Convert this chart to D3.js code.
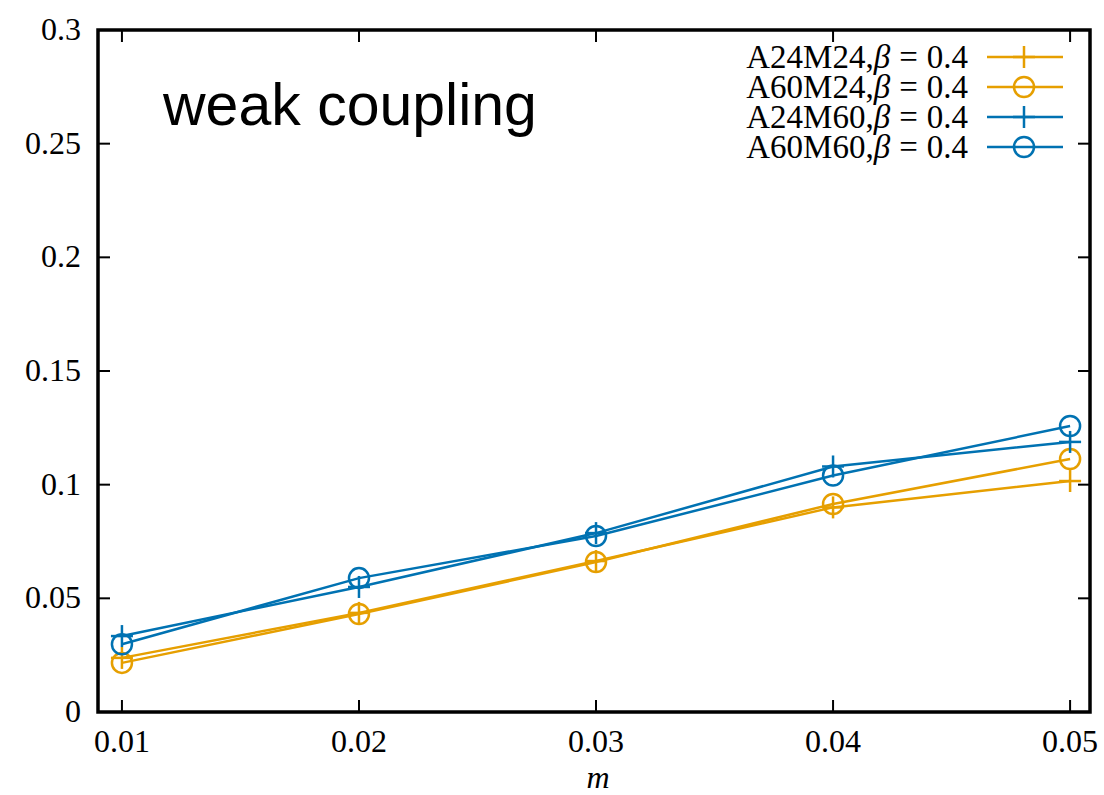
<!DOCTYPE html>
<html>
<head>
<meta charset="utf-8">
<script src="https://cdn.jsdelivr.net/npm/d3@7"></script>
<style>
  body { margin: 0; background: #fff; }
  svg text { fill: #000; }
</style>
</head>
<body>
<svg id="chart" width="1104" height="795"></svg>
<script>
// data
var masses = [0.01, 0.02, 0.03, 0.04, 0.05];
var a24m24 = [0.0238, 0.0436, 0.0664, 0.0900, 0.1016];
var a60m24 = [0.0216, 0.0431, 0.0660, 0.0915, 0.1113];
var a24m60 = [0.0334, 0.0550, 0.0787, 0.1080, 0.1188];
var a60m60 = [0.0298, 0.0589, 0.0774, 0.1040, 0.1258];
var seriesNames = ["A24M24,", "A60M24,", "A24M60,", "A60M60,"];
var xTicks = [0.01, 0.02, 0.03, 0.04, 0.05];
var yTicks = [0, 0.05, 0.1, 0.15, 0.2, 0.25, 0.3];

var orange = "#e69f00", blue = "#0072b2";
var series = [
  {name: seriesNames[0], values: a24m24, color: orange, marker: "plus"},
  {name: seriesNames[1], values: a60m24, color: orange, marker: "circle"},
  {name: seriesNames[2], values: a24m60, color: blue, marker: "plus"},
  {name: seriesNames[3], values: a60m60, color: blue, marker: "circle"}
];

var plotLeft = 98, plotRight = 1090, plotTop = 30, plotBottom = 712;
var svg = d3.select("#chart");
var serif = "'Liberation Serif', 'DejaVu Serif', serif";

var x = d3.scaleLinear().domain([0.00899, 0.05084]).range([plotLeft, plotRight]);
var y = d3.scaleLinear().domain([0, 0.3]).range([plotBottom, plotTop]);

// ticks (inward, mirrored)
var tickLen = 12;
var ticks = svg.append("g").attr("stroke", "#000").attr("stroke-width", 2);
xTicks.forEach(function(t) {
  ticks.append("line").attr("x1", x(t)).attr("x2", x(t)).attr("y1", plotBottom).attr("y2", plotBottom - tickLen);
  ticks.append("line").attr("x1", x(t)).attr("x2", x(t)).attr("y1", plotTop).attr("y2", plotTop + tickLen);
});
yTicks.forEach(function(t) {
  ticks.append("line").attr("x1", plotLeft).attr("x2", plotLeft + tickLen).attr("y1", y(t)).attr("y2", y(t));
  ticks.append("line").attr("x1", plotRight).attr("x2", plotRight - tickLen).attr("y1", y(t)).attr("y2", y(t));
});

// tick labels
svg.append("g").selectAll("text")
  .data(xTicks)
  .enter()
  .append("text")
    .attr("x", function(d) { return x(d); })
    .attr("y", 752)
    .attr("text-anchor", "middle")
    .style("font-family", serif)
    .style("font-size", "32px")
    .text(function(d) { return d3.format(".2f")(d); });

svg.append("g").selectAll("text")
  .data(yTicks)
  .enter()
  .append("text")
    .attr("x", 81)
    .attr("y", function(d) { return y(d) + 10; })
    .attr("text-anchor", "end")
    .style("font-family", serif)
    .style("font-size", "32px")
    .text(function(d) { return d == 0 ? "0" : String(+d.toFixed(2)); });

svg.append("text")
  .attr("x", 598).attr("y", 788)
  .attr("text-anchor", "middle")
  .style("font-family", serif)
  .style("font-style", "italic")
  .style("font-size", "32px")
  .text("m");

// data lines
var line = d3.line()
  .x(function(d, i) { return x(masses[i]); })
  .y(function(d) { return y(d); });

function drawMarker(g, cx, cy, type, color) {
  if (type == "plus") {
    g.append("line").attr("x1", cx - 11).attr("x2", cx + 11).attr("y1", cy).attr("y2", cy)
      .attr("stroke", color).attr("stroke-width", 2.5);
    g.append("line").attr("x1", cx).attr("x2", cx).attr("y1", cy - 11).attr("y2", cy + 11)
      .attr("stroke", color).attr("stroke-width", 2.5);
  } else {
    g.append("circle").attr("cx", cx).attr("cy", cy).attr("r", 10)
      .attr("fill", "none").attr("stroke", color).attr("stroke-width", 2.5);
  }
}

series.forEach(function(s) {
  var g = svg.append("g");
  g.append("path")
    .datum(s.values)
    .attr("d", line)
    .attr("fill", "none")
    .attr("stroke", s.color)
    .attr("stroke-width", 2.5);
  s.values.forEach(function(v, i) {
    drawMarker(g, x(masses[i]), y(v), s.marker, s.color);
  });
});

// frame
svg.append("rect")
  .attr("x", plotLeft).attr("y", plotTop)
  .attr("width", plotRight - plotLeft).attr("height", plotBottom - plotTop)
  .attr("fill", "none").attr("stroke", "#000").attr("stroke-width", 3.5);

// legend
var legendY = [57, 87, 117, 147];
series.forEach(function(s, i) {
  var t = svg.append("text")
    .attr("x", 968).attr("y", legendY[i] + 11)
    .attr("text-anchor", "end")
    .style("font-family", serif)
    .style("font-size", "33px");
  t.append("tspan").text(s.name);
  t.append("tspan").style("font-style", "italic").text("β");
  t.append("tspan").attr("dx", 9).text("=");
  t.append("tspan").attr("dx", 9).text("0.4");
  var g = svg.append("g");
  g.append("line").attr("x1", 987).attr("x2", 1063).attr("y1", legendY[i]).attr("y2", legendY[i])
    .attr("stroke", s.color).attr("stroke-width", 2.5);
  drawMarker(g, 1024, legendY[i], s.marker, s.color);
});

svg.append("text")
  .attr("x", 163).attr("y", 125)
  .style("font-family", "'Liberation Sans', Arial, sans-serif")
  .style("font-size", "59px")
  .text("weak coupling");
</script>
</body>
</html>
